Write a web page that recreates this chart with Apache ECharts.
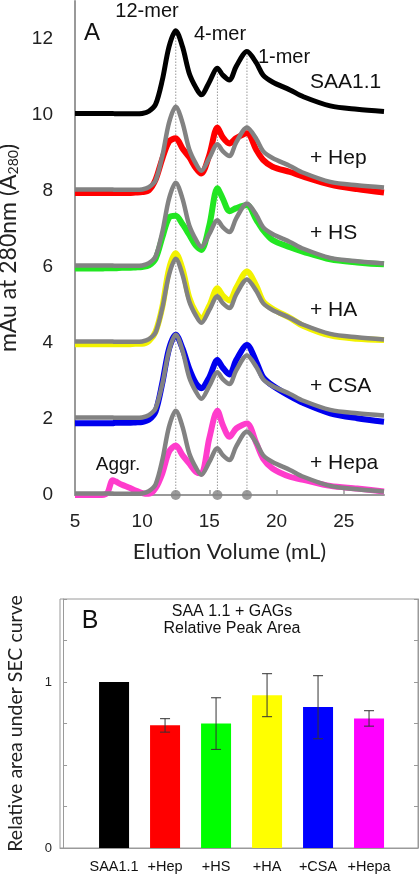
<!DOCTYPE html>
<html>
<head>
<meta charset="utf-8">
<script src="https://cdn.jsdelivr.net/npm/echarts@6/dist/echarts.min.js"></script>
<style>html,body{margin:0;padding:0;background:#fff}#c{width:420px;height:876px}</style>
</head>
<body>
<div id="c"></div>
<script>
// ---------- Panel A: SEC traces (raw absorbance above each trace's baseline) ----------
const elutionX = [5,7,7.4,7.8,8,8.5,9,9.5,10,10.5,11,11.5,12,12.5,13,13.5,14,14.4,15,15.6,16,16.5,17,17.8,18.5,19,19.7,21,22,24,26,28];
const saa11 = [0.04,0.04,0.04,0.04,0.03,0.03,0.03,0.03,0.04,0.10,0.28,0.92,1.80,2.22,1.80,1.10,0.72,0.53,0.87,1.23,1.05,0.92,1.28,1.67,1.37,1.05,0.87,0.66,0.48,0.24,0.15,0.09];
const plusHep = [-0.05,-0.05,-0.05,-0.05,-0.05,-0.05,-0.05,-0.04,-0.03,0.02,0.30,0.85,1.30,1.39,1.12,0.89,0.60,0.46,0.95,1.67,1.41,1.25,1.39,1.52,1.08,0.82,0.64,0.50,0.38,0.17,0.05,-0.04];
const plusHS = [-0.04,-0.04,-0.03,-0.03,-0.03,-0.02,-0.02,-0.01,0.00,0.04,0.22,0.78,1.30,1.35,1.13,0.85,0.56,0.45,1.10,2.07,1.80,1.47,1.55,1.63,1.24,0.97,0.71,0.52,0.40,0.20,0.12,0.07];
const plusHA = [-0.03,-0.03,-0.03,-0.03,-0.03,-0.03,-0.03,-0.02,-0.02,0.05,0.30,0.95,1.95,2.36,1.95,1.20,0.80,0.65,0.98,1.44,1.25,1.12,1.45,1.88,1.50,1.10,0.90,0.66,0.45,0.20,0.11,0.08];
const plusCSA = [-0.11,-0.11,-0.11,-0.11,-0.10,-0.10,-0.10,-0.09,-0.08,-0.02,0.20,0.95,1.85,2.22,1.86,1.33,0.94,0.81,1.10,1.55,1.35,1.17,1.55,1.95,1.50,1.10,0.88,0.60,0.42,0.15,0.02,-0.07];
const plusHepa = [0.00,0.00,0.05,0.39,0.36,0.27,0.20,0.12,0.05,0.03,0.18,0.57,1.14,1.30,1.05,0.83,0.61,0.57,1.50,2.22,1.84,1.53,1.75,1.88,1.36,0.96,0.70,0.48,0.40,0.24,0.17,0.09];
const traceNames = ['SAA1.1','+ Hep','+ HS','+ HA','+ CSA','+ Hepa'];
const traceOffsets = [10,8,6,4,2,0];
const peakX = [12.5,15.6,17.8];
const peakNames = ['12-mer','4-mer','1-mer'];
const yTicksA = [0,2,4,6,8,10,12];
const xTicksA = [5,10,15,20,25];

// ---------- Panel B: relative peak area ----------
const barCats = ['SAA1.1','+Hep','+HS','+HA','+CSA','+Hepa'];
const barVals = [1.00,0.74,0.75,0.92,0.85,0.78];
const barLo = [null,0.698,0.594,0.791,0.658,0.734];
const barHi = [null,0.779,0.905,1.050,1.038,0.827];

const colors = ['#000000','#ff0000','#22e622','#f2f200','#0000ee','#ff3ccc'];
const barColors = ['#000000','#ff0000','#00ff00','#ffff00','#0000ff','#ff00ff'];
const GRAY = '#828282';

const traces = [saa11, plusHep, plusHS, plusHA, plusCSA, plusHepa];
const mk = (arr, off) => elutionX.map((x,i)=>[x, +(arr[i]+off).toFixed(3)]);

const series = [];
// dotted vertical lines from baseline to SAA1.1 peaks
peakX.forEach(p=>{
  const top = saa11[elutionX.indexOf(p)] + traceOffsets[0];
  series.push({type:'line', xAxisIndex:0, yAxisIndex:0, data:[[p,0],[p,top]], symbol:'none',
    lineStyle:{color:'#999', width:1, type:[1.5,1.5]}, z:1, silent:true});
});
// traces
traces.forEach((arr,k)=>{
  series.push({type:'line', name:traceNames[k], xAxisIndex:0, yAxisIndex:0, data:mk(arr, traceOffsets[k]),
    symbol:'none', smooth:0.3, lineStyle:{color:colors[k], width: k===0?5:6}, z:2+k});
  if(k>0){
    series.push({type:'line', xAxisIndex:0, yAxisIndex:0, data:mk(saa11, traceOffsets[k]),
      symbol:'none', smooth:0.3, lineStyle:{color:GRAY, width:4.5}, z:3+k});
  }
});
// peak markers on x axis
series.push({type:'scatter', xAxisIndex:0, yAxisIndex:0, data:peakX.map(p=>[p,0]), symbolSize:10,
  itemStyle:{color:GRAY}, z:20, clip:false});

// bars
series.push({type:'bar', xAxisIndex:1, yAxisIndex:1, barWidth:30,
  data: barVals.map((v,i)=>({value:[i+1,v], itemStyle:{color:barColors[i]}}))});
// error bars
series.push({type:'custom', xAxisIndex:1, yAxisIndex:1, z:10,
  data: barLo.map((lo,i)=>[i+1, lo, barHi[i]]).filter(d=>d[1]!==null),
  renderItem:(params, api)=>{
    const x = api.value(0);
    const a = api.coord([x, api.value(1)]);
    const b = api.coord([x, api.value(2)]);
    const w = 5;
    const st = {stroke:'#333', lineWidth:1};
    return {type:'group', children:[
      {type:'line', shape:{x1:a[0],y1:a[1],x2:b[0],y2:b[1]}, style:st},
      {type:'line', shape:{x1:a[0]-w,y1:a[1],x2:a[0]+w,y2:a[1]}, style:st},
      {type:'line', shape:{x1:b[0]-w,y1:b[1],x2:b[0]+w,y2:b[1]}, style:st}
    ]};
  }});

const lblFont = 'Liberation Sans, Arial, sans-serif';
const chart = echarts.init(document.getElementById('c'), null, {renderer:'canvas'});
chart.setOption({
  animation:false,
  backgroundColor:'#fff',
  grid:[
    {left:75, right:36, top:1, bottom:381, outerBoundsMode:'none', containLabel:false},
    {left:60, right:2, top:599, bottom:28, show:true, borderColor:'#9a9a9a', borderWidth:1, outerBoundsMode:'none', containLabel:false}
  ],
  xAxis:[
    {type:'value', gridIndex:0, min:5, max:28, interval:5,
      axisLine:{lineStyle:{color:'#999', width:2}},
      axisTick:{inside:true, length:5, lineStyle:{color:'#999', width:1.5}, customValues:xTicksA},
      axisLabel:{customValues:xTicksA, fontFamily:lblFont, fontSize:19, color:'#222', margin:17},
      splitLine:{show:false},
      name:'Elution Volume (mL)', nameLocation:'middle', nameGap:46,
      nameTextStyle:{fontFamily:'Lato', fontSize:22, color:'#222'}},
    {type:'value', gridIndex:1, min:-0.06, max:6.96,
      axisLine:{lineStyle:{color:'#9a9a9a', width:1}},
      axisTick:{show:false},
      axisLabel:{customValues:[1,2,3,4,5,6], formatter:v=>barCats[Math.round(v)-1]||'',
        fontFamily:lblFont, fontSize:14.5, color:'#111', margin:11},
      splitLine:{show:false}}
  ],
  yAxis:[
    {type:'value', gridIndex:0, min:0, max:13, interval:2,
      axisLine:{show:true, lineStyle:{color:'#999', width:2}},
      axisTick:{show:false},
      axisLabel:{customValues:yTicksA, fontFamily:lblFont, fontSize:19, color:'#222', margin:22},
      splitLine:{show:false},
      name:'mAu at 280nm (A{s|280})', nameLocation:'middle', nameGap:46,
      nameTextStyle:{fontFamily:'Lato', fontSize:23, color:'#222',
        rich:{s:{fontFamily:'Lato', fontSize:14, color:'#222', verticalAlign:'bottom', padding:[10,0,0,0]}}}},
    {type:'value', gridIndex:1, min:0, max:1.5, interval:0.25,
      axisLine:{show:true, lineStyle:{color:'#9a9a9a', width:1}},
      axisTick:{inside:true, length:4, lineStyle:{color:'#9a9a9a'}},
      axisLabel:{formatter:v=>(v===0||v===1)?String(v):'', fontFamily:lblFont, fontSize:13, color:'#222', margin:8},
      splitLine:{show:false},
      name:'Relative area under SEC curve', nameLocation:'middle', nameGap:34,
      nameTextStyle:{fontFamily:'Lato', fontSize:19.5, color:'#222'}},
    {type:'value', gridIndex:1, position:'right', min:0, max:1.5, interval:0.25,
      axisLine:{show:true, lineStyle:{color:'#9a9a9a', width:1}},
      axisTick:{inside:true, length:4, lineStyle:{color:'#9a9a9a'}},
      axisLabel:{show:false}, splitLine:{show:false}}
  ],
  graphic:[
    {type:'text', x:92, y:33, style:{text:'A', font:'24px '+lblFont, fill:'#111', align:'center', verticalAlign:'middle'}},
    {type:'text', x:147, y:11, style:{text:peakNames[0], font:'20px '+lblFont, fill:'#111', align:'center', verticalAlign:'middle'}},
    {type:'text', x:220, y:34, style:{text:peakNames[1], font:'20px '+lblFont, fill:'#111', align:'center', verticalAlign:'middle'}},
    {type:'text', x:284, y:57, style:{text:peakNames[2], font:'20px '+lblFont, fill:'#111', align:'center', verticalAlign:'middle'}},
    {type:'text', x:310, y:82, style:{text:traceNames[0], font:'21px '+lblFont, fill:'#111', align:'left', verticalAlign:'middle'}},
    {type:'text', x:310, y:158, style:{text:traceNames[1], font:'21px '+lblFont, fill:'#111', align:'left', verticalAlign:'middle'}},
    {type:'text', x:310, y:233, style:{text:traceNames[2], font:'21px '+lblFont, fill:'#111', align:'left', verticalAlign:'middle'}},
    {type:'text', x:310, y:310, style:{text:traceNames[3], font:'21px '+lblFont, fill:'#111', align:'left', verticalAlign:'middle'}},
    {type:'text', x:310, y:386, style:{text:traceNames[4], font:'21px '+lblFont, fill:'#111', align:'left', verticalAlign:'middle'}},
    {type:'text', x:310, y:463, style:{text:traceNames[5], font:'21px '+lblFont, fill:'#111', align:'left', verticalAlign:'middle'}},
    {type:'text', x:118, y:465, style:{text:'Aggr.', font:'19px '+lblFont, fill:'#111', align:'center', verticalAlign:'middle'}},
    {type:'text', x:90, y:621, style:{text:'B', font:'25px '+lblFont, fill:'#111', align:'center', verticalAlign:'middle'}},
    {type:'text', x:232, y:612, style:{text:'SAA 1.1 + GAGs', font:'16px '+lblFont, fill:'#111', align:'center', verticalAlign:'middle'}},
    {type:'text', x:232, y:629, style:{text:'Relative Peak Area', font:'16px '+lblFont, fill:'#111', align:'center', verticalAlign:'middle'}}
  ],
  series: series
});
</script>
</body>
</html>
